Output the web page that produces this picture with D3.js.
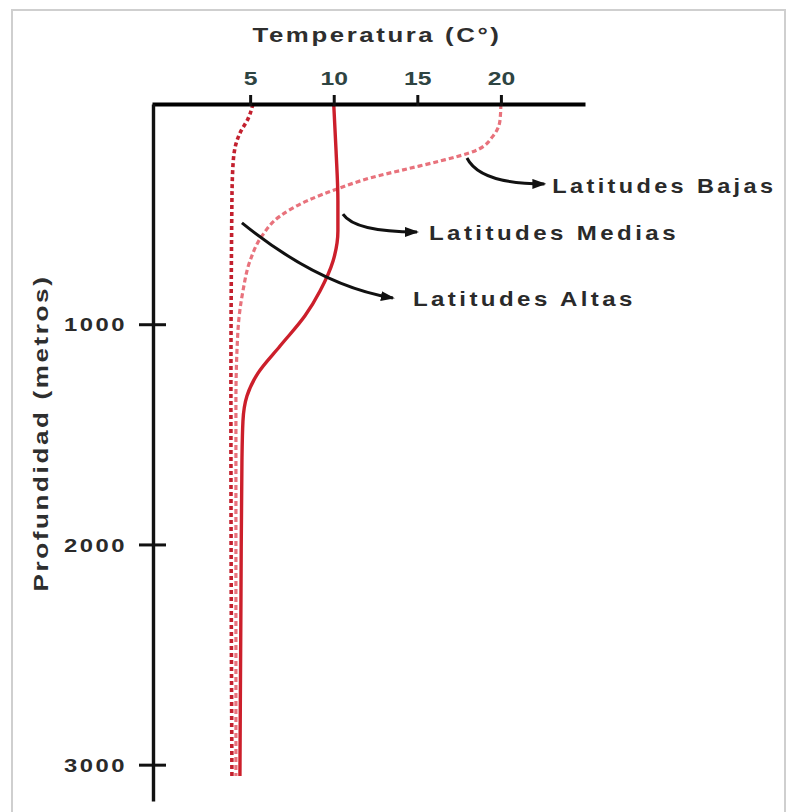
<!DOCTYPE html>
<html><head><meta charset="utf-8">
<script src="https://cdn.jsdelivr.net/npm/d3@7"></script>
<style>
html,body{margin:0;padding:0;background:#fff;}
svg{display:block;}
text{font-family:"Liberation Sans",Arial,sans-serif;font-weight:bold;}
</style></head>
<body><svg id="c" width="792" height="812"></svg>
<script>
// ---- data ----
const tempTicks = [5, 10, 15, 20];
const depthTicks = [1000, 2000, 3000];

const bajasDepth = [0, 77, 145, 213, 259, 295, 336, 381, 440, 509, 599, 713, 849, 1031, 1349, 3052];
const bajasTemp  = [20, 19.94, 19.53, 18.45, 16.35, 14.38, 12.17, 10.37, 8.4, 6.79, 5.71, 4.99, 4.57, 4.27, 4.15, 4.15];

const mediasDepth = [0, 213, 440, 577, 713, 849, 962, 1099, 1222, 1326, 1440, 1621, 2257, 3052];
const mediasTemp  = [10, 10.14, 10.25, 10.25, 9.96, 9.18, 8.28, 6.79, 5.47, 4.81, 4.57, 4.51, 4.45, 4.39];

const altasDepth = [0, 68, 123, 182, 282, 440, 1349, 3052];
const altasTemp  = [5.17, 4.87, 4.45, 4.15, 3.97, 3.91, 3.85, 3.91];

const annLabels = ["Latitudes Bajas", "Latitudes Medias", "Latitudes Altas"];
const annStartT = [17.97, 10.55, 4.51];
const annStartD = [245, 500, 540];
const annCtrlT  = [18.75, 11.27, 9.18];
const annCtrlD  = [363, 581, 827];
const annEndT   = [22.6, 14.98, 13.54];
const annEndD   = [363, 581, 881];

const xTitle = "Temperatura (C°)";
const yTitle = "Profundidad (metros)";

// ---- drawing ----
const svg = d3.select("#c");
const x = d3.scaleLinear().domain([-0.87, 25.03]).range([152, 585]);
const y = d3.scaleLinear().domain([0, 3165]).range([104, 801]);

// frame
svg.append("rect").attr("x", 12).attr("y", 10).attr("width", 773).attr("height", 810)
  .attr("fill", "none").attr("stroke", "#cfcfcf").attr("stroke-width", 2);

// curves
const line = (T, D) => d3.line().x((d, i) => x(T[i])).y(d => y(d)).curve(d3.curveMonotoneY)(D);

svg.append("path").attr("d", line(bajasTemp, bajasDepth))
  .attr("fill", "none").attr("stroke", "#e8727c").attr("stroke-width", 3.2)
  .attr("stroke-dasharray", "5,3");
svg.append("path").attr("d", line(altasTemp, altasDepth))
  .attr("fill", "none").attr("stroke", "#c3202e").attr("stroke-width", 3.6)
  .attr("stroke-dasharray", "4,3");
svg.append("path").attr("d", line(mediasTemp, mediasDepth))
  .attr("fill", "none").attr("stroke", "#cc1f2b").attr("stroke-width", 3.4);

// axes
const topAxis = svg.append("g").attr("transform", `translate(0,${y(0)})`)
  .call(d3.axisTop(x).tickValues(tempTicks).tickSize(9).tickSizeOuter(0).tickFormat(d3.format("d")));
topAxis.select(".domain").attr("stroke", "#000").attr("stroke-width", 4);
topAxis.selectAll(".tick line").attr("stroke", "#111").attr("stroke-width", 3).attr("y2", -9).attr("y1", 2);
topAxis.selectAll(".tick text").attr("y", -19).attr("transform", "scale(1.3,1)")
  .style("font-size", "19px").attr("fill", "#2e4442");

const leftAxis = svg.append("g").attr("transform", `translate(${x(-0.87) + 1},0)`)
  .call(d3.axisLeft(y).tickValues(depthTicks).tickSize(14).tickSizeOuter(0).tickFormat(d3.format("d")));
leftAxis.select(".domain").attr("stroke", "#111").attr("stroke-width", 3.4);
leftAxis.selectAll(".tick line").attr("stroke", "#111").attr("stroke-width", 3).attr("x1", 13).attr("x2", -14);
leftAxis.selectAll(".tick text").attr("x", -26).attr("dy", "0.35em")
  .style("font-size", "19px").style("letter-spacing", "2px")
  .attr("textLength", 63).attr("lengthAdjust", "spacingAndGlyphs").attr("fill", "#2a2a2a");
svg.selectAll("g").attr("font-family", null).attr("font-size", null);

// titles
svg.append("text").attr("x", 377).attr("y", 42).attr("text-anchor", "middle")
  .style("font-size", "20px").style("letter-spacing", "2px")
  .attr("textLength", 249).attr("lengthAdjust", "spacingAndGlyphs")
  .attr("fill", "#2e2e2e").text(xTitle);
svg.append("text").attr("transform", "translate(48,433) rotate(-90)").attr("text-anchor", "middle")
  .style("font-size", "20px").style("letter-spacing", "2px")
  .attr("textLength", 317).attr("lengthAdjust", "spacingAndGlyphs")
  .attr("fill", "#2e2e2e").text(yTitle);

// arrows
svg.append("defs").append("marker").attr("id", "ah")
  .attr("viewBox", "0 0 14 10").attr("refX", 12).attr("refY", 5)
  .attr("markerWidth", 14).attr("markerHeight", 10).attr("markerUnits", "userSpaceOnUse")
  .attr("orient", "auto")
  .append("path").attr("d", "M0,0 L14,5 L0,10 Z").attr("fill", "#111");

const labelDx = [8, 12, 20];
const labelDy = [9, 8, 8];
const labelW = [224, 250, 223];
annLabels.forEach((lab, i) => {
  const p = d3.path();
  p.moveTo(x(annStartT[i]), y(annStartD[i]));
  p.quadraticCurveTo(x(annCtrlT[i]), y(annCtrlD[i]), x(annEndT[i]), y(annEndD[i]));
  svg.append("path").attr("d", p.toString()).attr("fill", "none")
    .attr("stroke", "#111").attr("stroke-width", 3).attr("marker-end", "url(#ah)");
  svg.append("text").attr("x", x(annEndT[i]) + labelDx[i]).attr("y", y(annEndD[i]) + labelDy[i])
    .style("font-size", "21px").style("letter-spacing", "3px")
    .attr("textLength", labelW[i]).attr("lengthAdjust", "spacingAndGlyphs")
    .attr("fill", "#2a2a2a").text(lab);
});
</script></body></html>
